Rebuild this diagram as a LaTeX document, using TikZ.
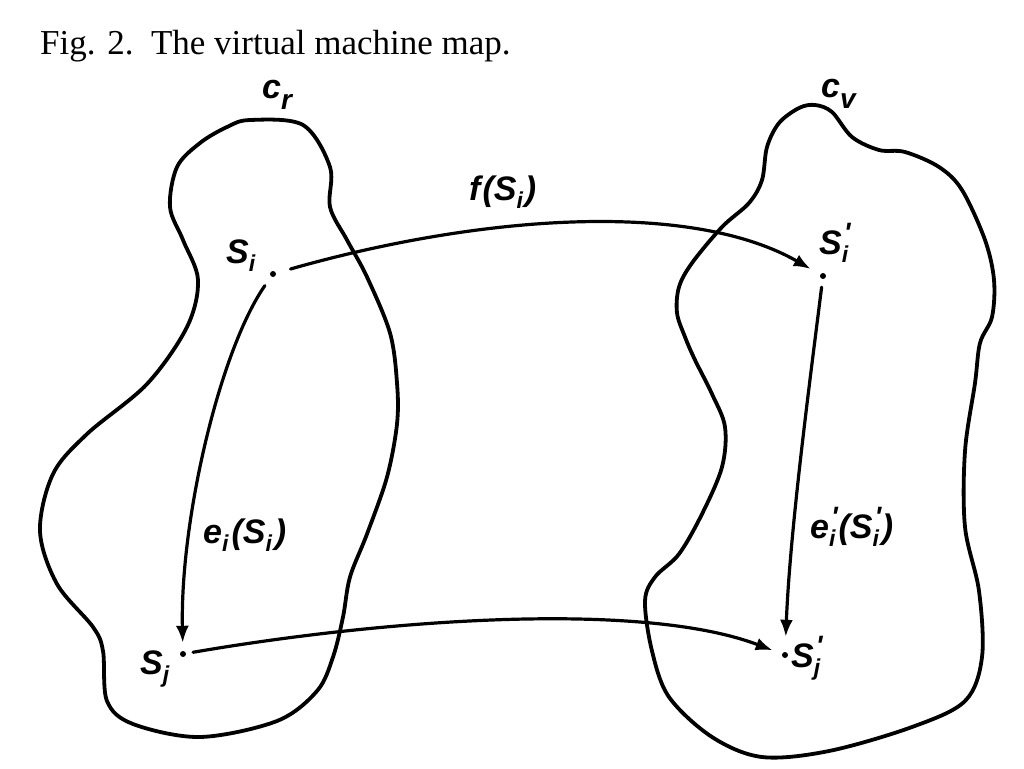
\documentclass[tikz,border=0pt]{standalone}
\usepackage{fontspec}
\setmainfont{Liberation Serif}
\newfontfamily\labfont{Liberation Sans}
\usetikzlibrary{arrows.meta}
\newcommand{\sbs}[1]{\raisebox{-8pt}{\fontsize{23}{23}\selectfont #1}}
\newcommand{\sbp}[1]{\makebox[0pt][l]{\raisebox{12pt}{\fontsize{28}{28}\selectfont\kern2pt\textquotesingle}}\raisebox{-8pt}{\fontsize{23}{23}\selectfont #1}}
\newcommand{\sbc}[1]{\raisebox{-11pt}{\fontsize{28}{28}\selectfont #1}}
\tikzset{
  blob/.style={line width=3.8pt, line join=round},
  arr/.style={line width=3.2pt, line cap=round, -{Latex[length=17pt,width=13pt]}},
  pt/.style={circle, fill=black, inner sep=0pt, minimum size=6pt},
  lbl/.style={inner sep=0pt, font=\labfont\bfseries\itshape\fontsize{34}{34}\selectfont},
  ttl/.style={inner sep=0pt, font=\fontsize{35}{35}\selectfont}
}
\begin{document}
\begin{tikzpicture}[x=1pt,y=-1pt]
\useasboundingbox (0,0) rectangle (1024,768);
% title
\node[ttl, anchor=base west] (title) at (40,55) {Fig. 2.\ \ The virtual machine map.};
% left region c_r
\draw[blob] plot[smooth cycle, tension=0.55] coordinates {
 (250,120) (303,125) (330,167) (330,207) (347,240) (367,277) (390,333) (397,383)
 (397,424) (387,477) (367,534) (350,577) (343,617) (333,657) (317,691) (277,721)
 (200,737) (133,724) (107,701) (103,651) (93,627) (57,584) (40,531) (53,474)
 (87,434) (147,384) (187,327) (198,280) (183,240) (170,207) (177,167) (200,143) (227,127)};
% right region c_v
\draw[blob] plot[smooth cycle, tension=0.55] coordinates {
 (815,105) (832,112) (852,137) (879,150) (905,152) (939,167) (962,190) (985,240)
 (994,280) (992,317) (980,343) (975,383) (965,451) (965,527) (979,591) (982,657)
 (965,701) (912,727) (829,751) (762,757) (712,737) (669,697) (652,651) (645,601)
 (655,577) (679,554) (702,514) (722,467) (725,427) (712,394) (695,360) (685,337)
 (677,313) (679,287) (692,263) (722,227) (749,203) (762,180) (767,147) (779,123) (799,108)};
% region labels
\node[lbl, anchor=base west] (cr) at (262,98) {c\sbc{r}};
\node[lbl, anchor=base west] (cv) at (821,97) {c\sbc{v}};
% state points
\node[pt] (si) at (273,274) {};
\node[pt] (sj) at (183,654) {};
\node[pt] (sip) at (823,276) {};
\node[pt] (sjp) at (785,655) {};
% state labels
\node[lbl, anchor=base west] (lsi) at (226,263) {S\sbs{i}};
\node[lbl, anchor=base west] (lsj) at (140,674) {S\sbs{j}};
\node[lbl, anchor=base west] (lsip) at (819,254) {S\sbp{i}};
\node[lbl, anchor=base west] (lsjp) at (791,667) {S\sbp{j}};
% arrows
\draw[arr, shorten <=15pt, shorten >=11pt] (si) .. controls (480,215) and (690,200) .. (sip);
\draw[arr, shorten <=7pt, shorten >=10pt] (sj) .. controls (380,620) and (640,600) .. (sjp);
\draw[arr, shorten <=11pt, shorten >=8pt] (si) .. controls (220,350) and (180,520) .. (sj);
\draw[arr, shorten <=8pt, shorten >=15pt] (sip) .. controls (810,380) and (790,530) .. (sjp);
% arrow labels
\node[lbl, anchor=base west] (lf) at (469,200) {f\kern2pt(S\sbs{i}\kern2pt)};
\node[lbl, anchor=base west] (le) at (203,543) {e\sbs{i}\kern3pt(S\sbs{i}\kern3pt)};
\node[lbl, anchor=base west] (lep) at (810,538) {e\sbp{i}\kern3pt(S\sbp{i}\kern3pt)};
\end{tikzpicture}
\end{document}
